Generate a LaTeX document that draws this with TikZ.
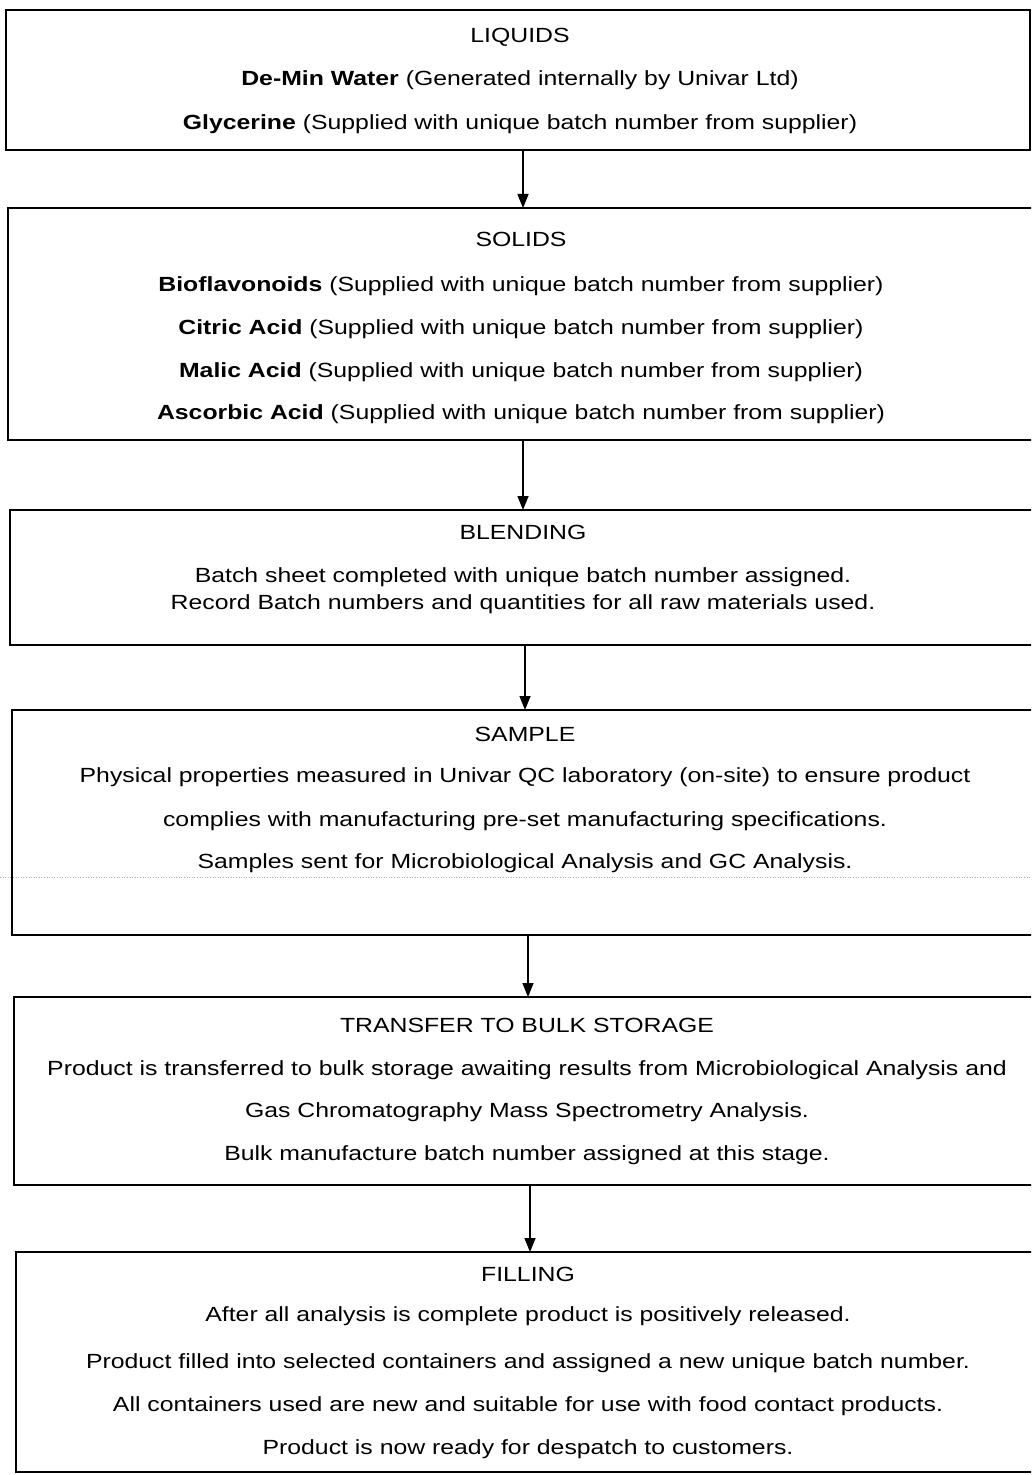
\documentclass[tikz,border=0pt]{standalone}
\usepackage{fontspec}
\setmainfont{Liberation Sans}
\usetikzlibrary{arrows.meta}
\newcommand{\sx}[1]{\scalebox{1.21}[1]{#1}}
\begin{document}
\begin{tikzpicture}[x=1bp,y=-1bp,
  box/.style={draw, line width=1.8bp, inner sep=0pt, outer sep=0pt, anchor=north west},
  txt/.style={font=\fontsize{20.5bp}{25bp}\selectfont, inner sep=0pt, anchor=base},
  arr/.style={line width=1.5bp, -{Triangle[length=14bp,width=11bp]}},
  scanline/.style={gray!60, line width=0.6bp, dotted}
]
\useasboundingbox (0,0) rectangle (1031,1475);
\clip (0,0) rectangle (1031,1475);
\fill[white] (0,0) rectangle (1031,1475);

% boxes
\node[box, minimum width=1024bp, minimum height=140bp] (b1) at (6,10) {};
\node[box, minimum width=1032bp, minimum height=232bp] (b2) at (8,208) {};
\node[box, minimum width=1030bp, minimum height=135bp] (b3) at (10,510) {};
\node[box, minimum width=1028bp, minimum height=225bp] (b4) at (12,710) {};
\node[box, minimum width=1026bp, minimum height=188bp] (b5) at (14,997) {};
\node[box, minimum width=1024bp, minimum height=220bp] (b6) at (16,1252) {};

% scan artefact line
\coordinate (sl) at (0,877);
\coordinate (sr) at (1031,877);
\draw[scanline] (sl) -- (sr);

% box 1
\node[txt] (t1a) at (520,43) {\sx{LIQUIDS}};
\node[txt] (t1b) at (520,86) {\sx{\textbf{De-Min Water} (Generated internally by Univar Ltd)}};
\node[txt] (t1c) at (520,130) {\sx{\textbf{Glycerine} (Supplied with unique batch number from supplier)}};

% box 2
\node[txt] (t2a) at (521,246) {\sx{SOLIDS}};
\node[txt] (t2b) at (521,291) {\sx{\textbf{Bioflavonoids} (Supplied with unique batch number from supplier)}};
\node[txt] (t2c) at (521,334) {\sx{\textbf{Citric Acid} (Supplied with unique batch number from supplier)}};
\node[txt] (t2d) at (521,377) {\sx{\textbf{Malic Acid} (Supplied with unique batch number from supplier)}};
\node[txt] (t2e) at (521,419) {\sx{\textbf{Ascorbic Acid} (Supplied with unique batch number from supplier)}};

% box 3
\node[txt] (t3a) at (523,539) {\sx{BLENDING}};
\node[txt] (t3b) at (523,582) {\sx{Batch sheet completed with unique batch number assigned.}};
\node[txt] (t3c) at (523,609) {\sx{Record Batch numbers and quantities for all raw materials used.}};

% box 4
\node[txt] (t4a) at (525,741) {\sx{SAMPLE}};
\node[txt] (t4b) at (525,782) {\sx{Physical properties measured in Univar QC laboratory (on-site) to ensure product}};
\node[txt] (t4c) at (525,826) {\sx{complies with manufacturing pre-set manufacturing specifications.}};
\node[txt] (t4d) at (525,868) {\sx{Samples sent for Microbiological Analysis and GC Analysis.}};

% box 5
\node[txt] (t5a) at (527,1032) {\sx{TRANSFER TO BULK STORAGE}};
\node[txt] (t5b) at (527,1075) {\sx{Product is transferred to bulk storage awaiting results from Microbiological Analysis and}};
\node[txt] (t5c) at (527,1117) {\sx{Gas Chromatography Mass Spectrometry Analysis.}};
\node[txt] (t5d) at (527,1160) {\sx{Bulk manufacture batch number assigned at this stage.}};

% box 6
\node[txt] (t6a) at (528,1281) {\sx{FILLING}};
\node[txt] (t6b) at (528,1321) {\sx{After all analysis is complete product is positively released.}};
\node[txt] (t6c) at (528,1368) {\sx{Product filled into selected containers and assigned a new unique batch number.}};
\node[txt] (t6d) at (528,1411) {\sx{All containers used are new and suitable for use with food contact products.}};
\node[txt] (t6e) at (528,1454) {\sx{Product is now ready for despatch to customers.}};

% arrows
\coordinate (ax1) at (523,0);
\coordinate (ax2) at (523,0);
\coordinate (ax3) at (525,0);
\coordinate (ax4) at (528,0);
\coordinate (ax5) at (530,0);
\draw[arr] (b1.south -| ax1) -- (b2.north -| ax1);
\draw[arr] (b2.south -| ax2) -- (b3.north -| ax2);
\draw[arr] (b3.south -| ax3) -- (b4.north -| ax3);
\draw[arr] (b4.south -| ax4) -- (b5.north -| ax4);
\draw[arr] (b5.south -| ax5) -- (b6.north -| ax5);
\end{tikzpicture}
\end{document}
